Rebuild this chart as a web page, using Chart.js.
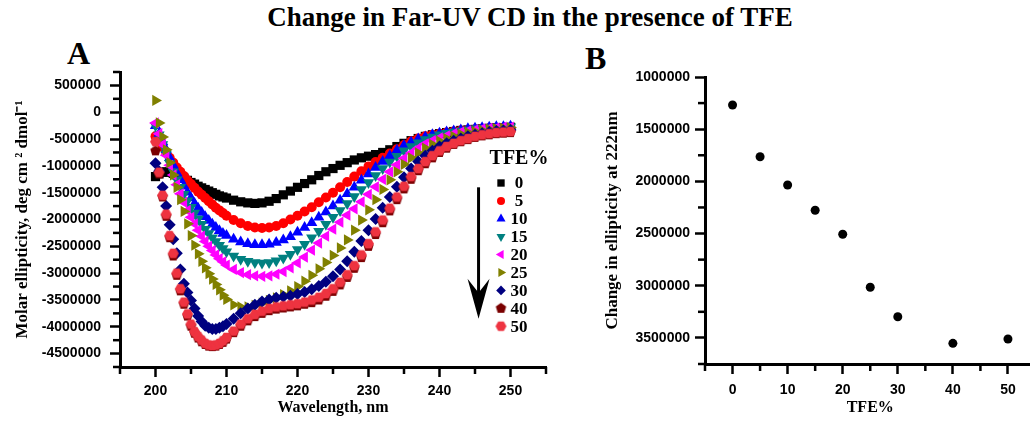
<!DOCTYPE html>
<html>
<head>
<meta charset="utf-8">
<script src="https://cdn.jsdelivr.net/npm/chart.js"></script>
<style>
  html, body { margin: 0; padding: 0; background: #fff; overflow: hidden; }
  #wrap { position: relative; width: 1030px; height: 421px; overflow: hidden; }
  .lbl { position: absolute; font-family: 'Liberation Serif', serif; font-weight: bold; color: #000; white-space: nowrap; line-height: 1; }
  canvas { position: absolute; top: 0; }
</style>
</head>
<body>
<div id="wrap">
  <div class="lbl" style="left:0; width:1060px; text-align:center; top:4px; font-size:27px;">Change in Far-UV CD in the presence of TFE</div>
  <div class="lbl" style="left:67px; top:37px; font-size:32px;">A</div>
  <div class="lbl" style="left:585px; top:42px; font-size:32px;">B</div>
  <canvas id="plotA" width="560" height="421" style="left:0;"></canvas>
  <canvas id="plotB" width="480" height="421" style="left:560px;"></canvas>
</div>
<script>
// Panel A: far-UV CD spectra, one series per TFE %
const wavelength = [200, 200.5, 201, 201.5, 202, 202.5, 203, 203.5, 204, 204.5, 205, 205.5, 206, 206.5, 207, 207.5, 208, 208.5, 209, 209.5, 210,
    211, 212, 213, 214, 215, 216, 217, 218, 219, 220, 221, 222, 223, 224, 225, 226, 227, 228, 229, 230,
    231, 232, 233, 234, 235, 236, 237, 238, 239, 240, 241, 242, 243, 244, 245, 246, 247, 248, 249, 250];

const tfe0 = [-1200000, -1150000, -1120000, -1110000, -1120000, -1140000, -1170000, -1200000, -1230000, -1270000, -1310000, -1340000, -1380000, -1410000, -1440000, -1470000, -1500000, -1530000, -1560000, -1580000, -1600000,
    -1640000, -1670000, -1690000, -1700000, -1690000, -1660000, -1610000, -1540000, -1470000, -1400000,
    -1330000, -1260000, -1180000, -1110000, -1050000, -990000, -940000, -890000, -850000, -820000,
    -790000, -750000, -700000, -640000, -580000, -530000, -490000, -450000, -420000, -400000,
    -380000, -360000, -340000, -330000, -320000, -310000, -300000, -290000, -290000, -280000];
const tfe5 = [-450000, -550000, -650000, -750000, -850000, -940000, -1030000, -1110000, -1190000, -1270000, -1340000, -1410000, -1480000, -1540000, -1600000, -1660000, -1720000, -1780000, -1830000, -1880000, -1930000,
    -2010000, -2070000, -2120000, -2150000, -2160000, -2150000, -2120000, -2070000, -2000000, -1930000,
    -1850000, -1770000, -1680000, -1590000, -1500000, -1400000, -1300000, -1200000, -1100000, -1010000,
    -930000, -850000, -770000, -690000, -610000, -540000, -490000, -450000, -420000, -400000,
    -380000, -360000, -340000, -330000, -320000, -310000, -300000, -300000, -290000, -290000];
const tfe10 = [-250000, -400000, -550000, -700000, -850000, -990000, -1130000, -1260000, -1380000, -1490000, -1600000, -1700000, -1790000, -1870000, -1950000, -2020000, -2090000, -2150000, -2210000, -2260000, -2300000,
    -2370000, -2420000, -2450000, -2470000, -2470000, -2460000, -2430000, -2380000, -2320000, -2240000,
    -2150000, -2060000, -1960000, -1860000, -1750000, -1640000, -1520000, -1400000, -1270000, -1150000,
    -1030000, -920000, -810000, -710000, -620000, -560000, -500000, -460000, -420000, -390000,
    -370000, -350000, -330000, -310000, -300000, -290000, -280000, -270000, -270000, -260000];
const tfe15 = [-250000, -420000, -600000, -780000, -950000, -1110000, -1260000, -1400000, -1530000, -1650000, -1770000, -1880000, -1990000, -2090000, -2180000, -2260000, -2340000, -2410000, -2480000, -2540000, -2600000,
    -2680000, -2740000, -2780000, -2800000, -2810000, -2800000, -2770000, -2720000, -2650000, -2560000,
    -2460000, -2340000, -2220000, -2090000, -1960000, -1830000, -1700000, -1570000, -1440000, -1310000,
    -1180000, -1050000, -930000, -820000, -720000, -640000, -570000, -510000, -460000, -420000,
    -390000, -370000, -350000, -330000, -310000, -300000, -290000, -280000, -280000, -270000];
const tfe20 = [-200000, -400000, -600000, -800000, -990000, -1170000, -1350000, -1520000, -1680000, -1830000, -1960000, -2080000, -2200000, -2310000, -2410000, -2500000, -2580000, -2660000, -2730000, -2790000, -2850000,
    -2930000, -2990000, -3030000, -3050000, -3060000, -3050000, -3020000, -2970000, -2900000, -2810000,
    -2700000, -2570000, -2440000, -2310000, -2180000, -2050000, -1920000, -1800000, -1670000, -1530000,
    -1390000, -1250000, -1110000, -980000, -860000, -760000, -670000, -590000, -530000, -480000,
    -440000, -400000, -370000, -350000, -330000, -310000, -300000, -290000, -280000, -280000];
const tfe25 = [220000, -200000, -460000, -700000, -940000, -1170000, -1400000, -1630000, -1850000, -2080000, -2300000, -2480000, -2640000, -2780000, -2900000, -3010000, -3110000, -3210000, -3310000, -3410000, -3490000,
    -3590000, -3630000, -3630000, -3600000, -3560000, -3510000, -3460000, -3400000, -3330000, -3250000,
    -3150000, -3040000, -2920000, -2800000, -2670000, -2530000, -2380000, -2200000, -2010000, -1820000,
    -1630000, -1440000, -1260000, -1110000, -970000, -850000, -760000, -670000, -600000, -540000,
    -490000, -450000, -410000, -380000, -360000, -340000, -320000, -310000, -300000, -290000];
const tfe30 = [-950000, -1100000, -1400000, -1750000, -2100000, -2370000, -2630000, -2930000, -3200000, -3360000, -3510000, -3660000, -3800000, -3900000, -3980000, -4020000, -4040000, -4040000, -4020000, -3990000, -3950000,
    -3850000, -3750000, -3660000, -3590000, -3530000, -3490000, -3460000, -3440000, -3420000, -3390000,
    -3350000, -3300000, -3240000, -3160000, -3060000, -2930000, -2780000, -2600000, -2400000, -2200000,
    -1990000, -1780000, -1580000, -1390000, -1210000, -1050000, -920000, -810000, -720000, -640000,
    -580000, -530000, -490000, -450000, -420000, -390000, -370000, -350000, -340000, -330000];
const tfe40 = [-720000, -1150000, -1580000, -1940000, -2340000, -2680000, -3040000, -3330000, -3580000, -3800000, -3990000, -4120000, -4210000, -4280000, -4330000, -4360000, -4370000, -4360000, -4330000, -4290000, -4230000,
    -4110000, -3990000, -3890000, -3810000, -3750000, -3700000, -3670000, -3650000, -3630000, -3610000,
    -3580000, -3550000, -3500000, -3430000, -3340000, -3220000, -3080000, -2910000, -2710000, -2500000,
    -2280000, -2060000, -1840000, -1630000, -1430000, -1250000, -1090000, -960000, -850000, -750000,
    -670000, -600000, -550000, -510000, -470000, -440000, -420000, -400000, -390000, -380000];
const tfe50 = [-550000, -1120000, -1550000, -1900000, -2300000, -2630000, -3000000, -3290000, -3540000, -3760000, -3950000, -4090000, -4180000, -4250000, -4310000, -4340000, -4350000, -4340000, -4310000, -4260000, -4200000,
    -4080000, -3950000, -3850000, -3770000, -3710000, -3660000, -3630000, -3610000, -3590000, -3570000,
    -3540000, -3500000, -3450000, -3380000, -3290000, -3170000, -3030000, -2860000, -2660000, -2450000,
    -2230000, -2010000, -1790000, -1580000, -1380000, -1200000, -1050000, -920000, -810000, -720000,
    -640000, -580000, -530000, -490000, -450000, -420000, -400000, -380000, -370000, -360000];

// Panel B: change in ellipticity at 222 nm vs TFE %
const tfePercent = [0, 5, 10, 15, 20, 25, 30, 40, 50];
const change222 = [1268000, 1764000, 2035000, 2277000, 2507000, 3015000, 3297000, 3552000, 3510000];

// arrow in panel A (data units)
const arrowWl = 245.5;
const arrowFrom = -1400000;
const arrowTo = -3850000;

function polyMarker(n, r, color, rot) {
    const c = document.createElement('canvas');
    const s = Math.ceil(2 * r + 2);
    c.width = s; c.height = s;
    const g = c.getContext('2d');
    g.fillStyle = color;
    g.beginPath();
    for (let i = 0; i < n; i++) {
        const a = rot + i * 2 * Math.PI / n;
        g.lineTo(s / 2 + r * Math.cos(a), s / 2 + r * Math.sin(a));
    }
    g.closePath();
    g.fill();
    return c;
}

const seriesA = [tfe0, tfe5, tfe10, tfe15, tfe20, tfe25, tfe30, tfe40, tfe50];
const markers = [
    { color: '#000000', style: 'rect', radius: 6.5, rotation: 0 },
    { color: '#ff0000', style: 'circle', radius: 5, rotation: 0 },
    { color: '#0000ff', style: 'triangle', radius: 6.5, rotation: 0 },
    { color: '#008080', style: 'triangle', radius: 6.5, rotation: 180 },
    { color: '#ff00ff', style: 'triangle', radius: 6.5, rotation: 270 },
    { color: '#808000', style: 'triangle', radius: 6.5, rotation: 90 },
    { color: '#000080', style: 'rectRot', radius: 6, rotation: 0 },
    { color: '#7a0000', style: polyMarker(5, 5.5, '#7a0000', -Math.PI / 2), radius: 5.5, rotation: 0 },
    { color: '#ee3340', style: polyMarker(6, 5.5, '#ee3340', 0), radius: 5.5, rotation: 0 }
];

const datasetsA = seriesA.map((vals, i) => ({
    label: String(tfePercent[i]),
    data: vals.map((v, k) => ({ x: wavelength[k], y: v })),
    showLine: false,
    pointStyle: markers[i].style,
    pointRadius: markers[i].radius,
    pointRotation: markers[i].rotation,
    pointBackgroundColor: markers[i].color,
    pointBorderWidth: 0,
    order: seriesA.length - i
}));

const tickFont = { family: 'Liberation Sans', weight: 'bold', size: 14 };
const titleFont = { family: 'Liberation Serif', weight: 'bold', size: 16 };

// axis: black border, long ticks on major values from chart.js, short minor ticks from the plugin
function axisGrid(major) {
    return {
        display: true,
        drawOnChartArea: false,
        drawTicks: true,
        tickLength: 10,
        tickWidth: 2.5,
        tickColor: c => (c.tick && Math.abs(c.tick.value % major) < 1e-6) ? '#000' : 'rgba(0,0,0,0)'
    };
}
const axisBorder = { display: true, color: '#000', width: 3 };

function minorTicks(majorX, majorY) {
    return {
        id: 'minorTicks',
        afterDraw(chart) {
            const ctx = chart.ctx;
            const area = chart.chartArea;
            const sx = chart.scales.x, sy = chart.scales.y;
            ctx.save();
            ctx.fillStyle = '#000';
            sx.ticks.forEach(t => {
                if (Math.abs(t.value % majorX) < 1e-6) return;
                const p = sx.getPixelForValue(t.value);
                ctx.fillRect(p - 1.25, area.bottom, 2.5, 7);
            });
            sy.ticks.forEach(t => {
                if (Math.abs(t.value % majorY) < 1e-6) return;
                const p = sy.getPixelForValue(t.value);
                ctx.fillRect(area.left - 7, p - 1.25, 7, 2.5);
            });
            ctx.restore();
        }
    };
}

const legendA = {
    id: 'legendA',
    afterDraw(chart) {
        const ctx = chart.ctx;
        const sx = chart.scales.x, sy = chart.scales.y;
        ctx.save();
        // arrow
        const ax = sx.getPixelForValue(arrowWl);
        const y0 = sy.getPixelForValue(arrowFrom);
        const y1 = sy.getPixelForValue(arrowTo);
        ctx.strokeStyle = '#000';
        ctx.fillStyle = '#000';
        ctx.lineWidth = 3;
        ctx.beginPath(); ctx.moveTo(ax, y0); ctx.lineTo(ax, y1 - 24); ctx.stroke();
        ctx.beginPath();
        ctx.moveTo(ax, y1);
        ctx.lineTo(ax - 11, y1 - 40);
        ctx.lineTo(ax, y1 - 26);
        ctx.lineTo(ax + 11, y1 - 40);
        ctx.closePath();
        ctx.fill();
        // legend
        ctx.textAlign = 'center';
        ctx.textBaseline = 'middle';
        ctx.font = 'bold 20px "Liberation Serif"';
        ctx.fillText('TFE%', 519, 159);
        ctx.font = 'bold 17px "Liberation Serif"';
        chart.data.datasets.forEach((ds, i) => {
            const y = 183 + i * 17.9;
            ctx.fillStyle = markers[i].color;
            Chart.helpers.drawPoint(ctx, { pointStyle: markers[i].style, radius: markers[i].radius * 0.8, rotation: markers[i].rotation, borderWidth: 0 }, 501, y);
            ctx.fillStyle = '#000';
            ctx.fillText(ds.label, 519, y + 1);
        });
        ctx.restore();
    }
};

new Chart(document.getElementById('plotA'), {
    type: 'scatter',
    data: { datasets: datasetsA },
    options: {
        responsive: false,
        animation: false,
        layout: { padding: { left: 0, top: 72, right: 14, bottom: 0 } },
        plugins: { legend: { display: false }, tooltip: { enabled: false } },
        scales: {
            x: {
                type: 'linear', min: 195, max: 255,
                afterFit: s => { s.height = 54; s.paddingLeft = 0; s.paddingRight = 0; },
                border: axisBorder,
                grid: axisGrid(10),
                ticks: { stepSize: 5, autoSkip: false, includeBounds: false, maxRotation: 0, padding: 6, color: '#000', font: tickFont,
                    callback: v => v % 10 === 0 ? String(v) : '' },
                title: { display: true, text: 'Wavelength, nm', color: '#000', font: titleFont, padding: { top: 0, bottom: 4 } }
            },
            y: {
                type: 'linear', min: -4750000, max: 750000,
                afterFit: s => { s.width = 120; s.paddingTop = 0; s.paddingBottom = 0; },
                border: axisBorder,
                grid: axisGrid(500000),
                ticks: { stepSize: 250000, autoSkip: false, includeBounds: false, padding: 9, color: '#000', font: tickFont,
                    callback: v => v % 500000 === 0 ? String(v) : '' },
                title: { display: true, text: 'Molar ellipticity, deg cm \u00b2 dmol\u207b\u00b9', color: '#000', font: { family: 'Liberation Serif', weight: 'bold', size: 17 }, padding: { top: 12, bottom: 0 } }
            }
        }
    },
    plugins: [minorTicks(10, 500000), legendA]
});

new Chart(document.getElementById('plotB'), {
    type: 'scatter',
    data: {
        datasets: [{
            label: 'Change at 222 nm',
            data: tfePercent.map((t, i) => ({ x: t, y: change222[i] })),
            pointStyle: 'circle',
            pointRadius: 4.5,
            pointBackgroundColor: '#000',
            pointBorderWidth: 0
        }]
    },
    options: {
        responsive: false,
        animation: false,
        layout: { padding: { left: 0, top: 77, right: 4, bottom: 0 } },
        plugins: { legend: { display: false }, tooltip: { enabled: false } },
        scales: {
            x: {
                type: 'linear', min: -5, max: 55,
                afterFit: s => { s.height = 57; s.paddingLeft = 0; s.paddingRight = 0; },
                border: axisBorder,
                grid: axisGrid(10),
                ticks: { stepSize: 5, autoSkip: false, includeBounds: false, maxRotation: 0, padding: 8, color: '#000', font: tickFont,
                    callback: v => v % 10 === 0 ? String(v) : '' },
                title: { display: true, text: 'TFE%', color: '#000', font: titleFont, padding: { top: 0, bottom: 4 } }
            },
            y: {
                type: 'linear', reverse: true, min: 1000000, max: 3750000,
                afterFit: s => { s.width = 145; s.paddingTop = 0; s.paddingBottom = 0; },
                border: axisBorder,
                grid: axisGrid(500000),
                ticks: { stepSize: 250000, autoSkip: false, includeBounds: false, padding: 5, color: '#000', font: tickFont,
                    callback: v => v % 500000 === 0 ? String(v) : '' },
                title: { display: true, text: 'Change in ellipticity at 222nm', color: '#000', font: { family: 'Liberation Serif', weight: 'bold', size: 17 }, padding: { top: 42, bottom: 0 } }
            }
        }
    },
    plugins: [minorTicks(10, 500000)]
});
</script>
</body>
</html>
